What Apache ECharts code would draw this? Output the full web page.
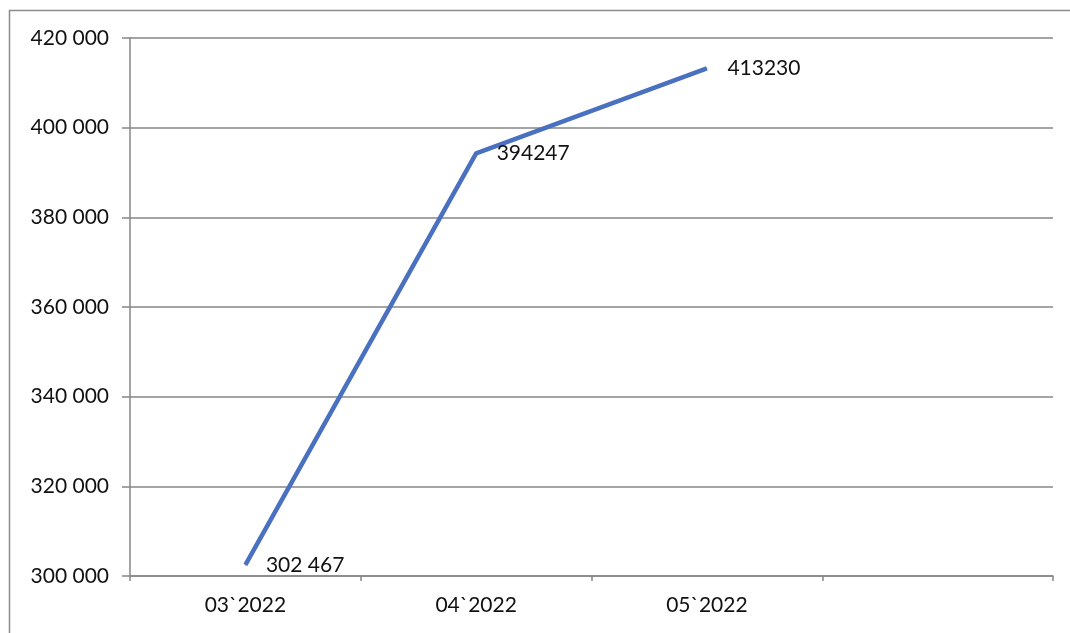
<!DOCTYPE html>
<html>
<head>
<meta charset="utf-8">
<script src="https://cdn.jsdelivr.net/npm/echarts@6/dist/echarts.min.js"></script>
<style>
  html, body { margin: 0; padding: 0; background: #fff; }
  #chart { width: 1070px; height: 633px; }
</style>
</head>
<body>
<div id="chart"></div>
<script>
// Monthly totals, March–May 2022 (fourth slot on the axis is left empty)
const categories = ['03`2022', '04`2022', '05`2022', ''];
const values = [302467, 394247, 413230];
const pointLabels = ['302 467', '394247', '413230'];
const yTicks = { min: 300000, max: 420000, interval: 20000 };

const FONT = 'Lato, "Open Sans", sans-serif';
const TEXT_COLOR = '#111111';
const GRID_COLOR = '#868686';

const chart = echarts.init(document.getElementById('chart'), null, { renderer: 'canvas' });

chart.setOption({
  backgroundColor: '#ffffff',
  animation: false,
  graphic: [{
    type: 'rect',
    shape: { x: 9.5, y: 10.5, width: 1200, height: 800 },
    style: { fill: 'none', stroke: '#8c8c8c', lineWidth: 1.5 },
    silent: true,
    z: 0
  }],
  grid: { left: 130, right: 17, top: 38, bottom: 57, containLabel: false },
  xAxis: {
    type: 'category',
    data: categories,
    boundaryGap: true,
    axisLine: { show: true, lineStyle: { color: GRID_COLOR, width: 1.5 } },
    axisTick: { show: true, alignWithLabel: false, length: 5, inside: false,
                lineStyle: { color: GRID_COLOR, width: 1.5 } },
    axisLabel: { color: TEXT_COLOR, fontFamily: FONT, fontSize: 21, margin: 19 },
    splitLine: { show: false }
  },
  yAxis: {
    type: 'value',
    min: yTicks.min,
    max: yTicks.max,
    interval: yTicks.interval,
    axisLine: { show: true, lineStyle: { color: GRID_COLOR, width: 1.5 } },
    axisTick: { show: true, length: 8, lineStyle: { color: GRID_COLOR, width: 1.5 } },
    axisLabel: {
      color: TEXT_COLOR, fontFamily: FONT, fontSize: 21, margin: 21,
      formatter: v => String(v).replace(/\B(?=(\d{3})+(?!\d))/g, ' ')
    },
    splitLine: { show: true, lineStyle: { color: GRID_COLOR, width: 1.5 } }
  },
  series: [{
    type: 'line',
    data: values,
    symbol: 'circle',
    symbolSize: 1,
    showSymbol: true,
    itemStyle: { color: '#4a70c0' },
    lineStyle: { color: '#4a70c0', width: 4.5 },
    label: {
      show: true,
      position: 'right',
      distance: 20,
      color: TEXT_COLOR,
      fontFamily: FONT,
      fontSize: 21,
      formatter: p => pointLabels[p.dataIndex]
    },
    z: 5
  }]
});
</script>
</body>
</html>
